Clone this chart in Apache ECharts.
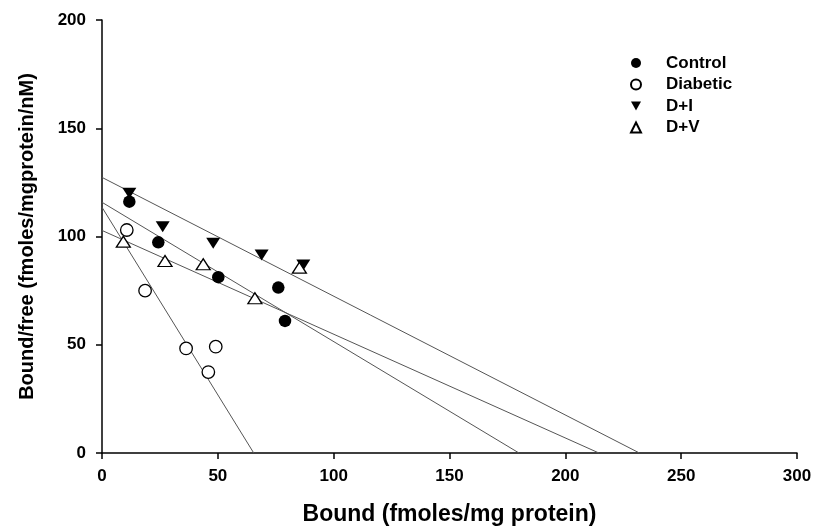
<!DOCTYPE html>
<html><head><meta charset="utf-8">
<script src="https://cdn.jsdelivr.net/npm/echarts@6/dist/echarts.min.js"></script>
<style>html,body{margin:0;padding:0;background:#fff}#c{width:814px;height:526px}</style>
</head><body><div id="c"></div>
<script>
const controlData = [[11.8,116.1],[24.3,97.3],[50.2,81.2],[76.1,76.4],[79,61]];
const diabeticData = [[10.7,103],[18.6,75],[36.3,48.3],[49.1,49.1],[45.9,37.4]];
const diData = [[11.8,120],[26.2,104.5],[48,96.9],[68.9,91.5],[86.9,86.8]];
const dvData = [[9.2,97.6],[27.2,88.7],[43.7,87.2],[66,71.5],[85.2,85.6]];
const controlFit = [[0,115.8],[180,0]];
const diabeticFit = [[0,113.5],[65.5,0]];
const diFit = [[0,127.3],[232,0]];
const dvFit = [[0,102.8],[214.5,0]];
const xTicks = [0,50,100,150,200,250,300];
const yTicks = [0,50,100,150,200];
const seriesNames = ['Control','Diabetic','D+I','D+V'];

const chart = echarts.init(document.getElementById('c'));
const font = 'Liberation Sans, Arial, sans-serif';
const fitLine = (d) => ({type:'line', data:d, symbol:'none', silent:true, z:1,
  lineStyle:{color:'#555', width:1}});
const downTri = 'path://M0,0L10,0L5,9Z';
chart.setOption({
  animation:false,
  backgroundColor:'#fff',
  grid:{left:102, right:17, top:20, bottom:73, containLabel:false, outerBoundsMode:'none'},
  legend:{
    left:630, top:54.5, padding:0, orient:'vertical', itemGap:4.5, itemWidth:10, itemHeight:10,
    textStyle:{fontFamily:font, fontWeight:'bold', fontSize:17, lineHeight:17, color:'#000', padding:[0,0,0,20]},
    data:[
      {name:seriesNames[0], icon:'circle'},
      {name:seriesNames[1], icon:'circle'},
      {name:seriesNames[2], icon:downTri},
      {name:seriesNames[3], icon:'triangle'}
    ]
  },
  xAxis:{
    type:'value', min:0, max:300, interval:50,
    name:'Bound (fmoles/mg protein)', nameLocation:'middle', nameGap:50,
    nameTextStyle:{fontFamily:font, fontWeight:'bold', fontSize:23, color:'#000'},
    axisLine:{lineStyle:{color:'#000', width:1.5}},
    axisTick:{show:true, length:6, lineStyle:{color:'#000', width:1.5}},
    axisLabel:{fontFamily:font, fontWeight:'bold', fontSize:17, color:'#000', margin:15,
      formatter:v=>xTicks.includes(v)?String(v):''},
    splitLine:{show:false}
  },
  yAxis:{
    type:'value', min:0, max:200, interval:50,
    name:'Bound/free (fmoles/mgprotein/nM)', nameLocation:'middle', nameGap:65, nameRotate:90,
    nameTextStyle:{fontFamily:font, fontWeight:'bold', fontSize:20, color:'#000'},
    axisLine:{show:true, lineStyle:{color:'#000', width:1.5}},
    axisTick:{show:true, length:6, lineStyle:{color:'#000', width:1.5}},
    axisLabel:{fontFamily:font, fontWeight:'bold', fontSize:17, color:'#000', margin:16,
      formatter:v=>yTicks.includes(v)?String(v):''},
    splitLine:{show:false}
  },
  series:[
    fitLine(controlFit), fitLine(diabeticFit), fitLine(diFit), fitLine(dvFit),
    {name:seriesNames[0], type:'scatter', data:controlData, symbol:'circle', symbolSize:12.5, z:3,
      itemStyle:{color:'#000', borderColor:'#000', borderWidth:0, opacity:1}},
    {name:seriesNames[1], type:'scatter', data:diabeticData, symbol:'circle', symbolSize:12.5, z:3,
      itemStyle:{color:'#fff', borderColor:'#000', borderWidth:1.3, opacity:1}},
    {name:seriesNames[2], type:'scatter', data:diData, symbol:'triangle', symbolRotate:180, symbolSize:[14,11], z:3,
      itemStyle:{color:'#000', borderColor:'#000', borderWidth:0, opacity:1}},
    {name:seriesNames[3], type:'scatter', data:dvData, symbol:'triangle', symbolSize:[14,11], z:3,
      itemStyle:{color:'#fff', borderColor:'#000', borderWidth:1.3, opacity:1}}
  ]
});
</script></body></html>
